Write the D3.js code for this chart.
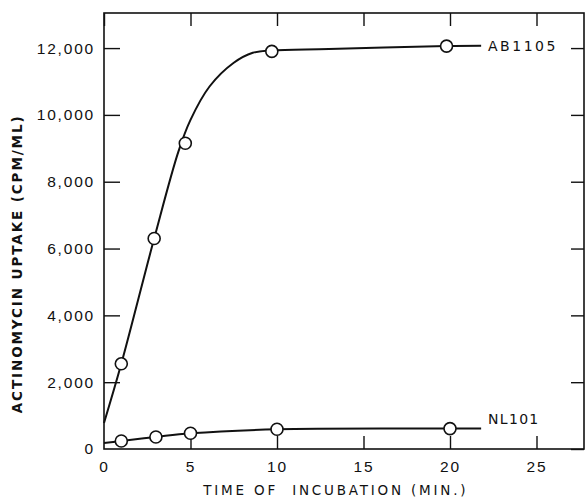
<!DOCTYPE html>
<html>
<head>
<meta charset="utf-8">
<script src="https://cdn.jsdelivr.net/npm/d3@7"></script>
<style>
  body { margin: 0; background: #fff; }
  svg { font-family: "DejaVu Sans", sans-serif; }
</style>
</head>
<body>
<div id="chart-area"></div>
<script>
// measured points (open circles)
var abTime = [1, 2.9, 4.7, 9.7, 19.8];
var abUptake = [2550, 6300, 9150, 11900, 12060];
var nlTime = [1, 3, 5, 10, 20];
var nlUptake = [240, 360, 470, 590, 610];

// hand-drawn fitted curves
var abCurveTime = [0, 1, 2.9, 4.3, 5.0, 6.1, 7.5, 8.6, 9.7, 13, 19.8, 21.8];
var abCurveUptake = [780, 2550, 6300, 8900, 9850, 10850, 11560, 11860, 11930, 11970, 12060, 12070];
var nlCurveTime = [0, 1, 3, 5, 10, 20, 21.8];
var nlCurveUptake = [180, 240, 360, 470, 590, 610, 610];

var xTicks = [0, 5, 10, 15, 20, 25];
var yTicks = [0, 2000, 4000, 6000, 8000, 10000, 12000];

window.onload = () => {
	var margin = { left: 104, top: 13, right: 3, bottom: 52 };
	var width = 587 - margin.left - margin.right;
	var height = 501 - margin.top - margin.bottom;

	var svg = d3.select('#chart-area')
		.append('svg')
		.attr("width", 587)
		.attr("height", 501);
	var g = svg.append("g")
		.attr("transform", "translate(" + margin.left + ", " + margin.top + ")");

	// SCALES
	var x = d3.scaleLinear()
		.domain([0, width / 17.3])
		.range([0, width]);
	var y = d3.scaleLinear()
		.domain([0, 13050])
		.range([height, 0]);

	// frame
	g.append("rect")
		.attr("width", width)
		.attr("height", height)
		.attr("fill", "none")
		.attr("stroke", "#111")
		.attr("stroke-width", 1.6);

	// AXES (ticks point inward)
	var fmt = d3.format(",");
	var xAxis = g.append("g")
		.attr("transform", "translate(0, " + height + ")")
		.call(d3.axisBottom(x).tickValues(xTicks).tickSize(-13).tickPadding(12).tickFormat(d => d));
	var yAxis = g.append("g")
		.call(d3.axisLeft(y).tickValues(yTicks).tickSize(-16).tickPadding(9).tickFormat(fmt));
	g.append("g")
		.call(d3.axisTop(x).tickValues(xTicks).tickSize(-13).tickFormat(""));
	g.append("g")
		.attr("transform", "translate(" + width + ", 0)")
		.call(d3.axisRight(y).tickValues(yTicks).tickSize(-13).tickFormat(""));

	g.selectAll(".domain").remove();
	g.selectAll(".tick line").attr("stroke", "#111").attr("stroke-width", 1.4);
	xAxis.selectAll(".tick line").filter(d => d === 0).remove();
	yAxis.selectAll(".tick line").filter(d => d === 0).remove();
	g.selectAll(".tick text")
		.attr("fill", "#111")
		.attr("font-size", "15.5px")
		.attr("letter-spacing", "1.8px");

	// LABELS
	g.append("text")
		.attr("x", width * 0.483)
		.attr("y", height + 46)
		.attr("font-size", "13.5px")
		.attr("letter-spacing", "2.8px")
		.attr("text-anchor", "middle")
		.attr("fill", "#111")
		.style("white-space", "pre")
		.text("TIME OF  INCUBATION (MIN.)");
	g.append("text")
		.attr("x", -(height * 0.58) + 2)
		.attr("y", -82)
		.attr("font-size", "13.5px")
		.attr("font-weight", "bold")
		.attr("letter-spacing", "1.9px")
		.attr("text-anchor", "middle")
		.attr("transform", "rotate(-90)")
		.attr("fill", "#111")
		.text("ACTINOMYCIN UPTAKE (CPM/ML)");

	// CURVES
	var line = d3.line()
		.x(d => x(d[0]))
		.y(d => y(d[1]))
		.curve(d3.curveCatmullRom.alpha(0.5));

	var series = [
		{ name: "AB1105", curve: d3.zip(abCurveTime, abCurveUptake), pts: d3.zip(abTime, abUptake), labelY: 12060, spacing: "2.5px" },
		{ name: "NL101", curve: d3.zip(nlCurveTime, nlCurveUptake), pts: d3.zip(nlTime, nlUptake), labelY: 900, spacing: "1.3px" }
	];

	series.forEach(s => {
		g.append("path")
			.datum(s.curve)
			.attr("d", line)
			.attr("fill", "none")
			.attr("stroke", "#111")
			.attr("stroke-width", 2);
		g.selectAll(null)
			.data(s.pts)
			.enter()
			.append("circle")
			.attr("cx", d => x(d[0]))
			.attr("cy", d => y(d[1]))
			.attr("r", 6)
			.attr("fill", "#fff")
			.attr("stroke", "#111")
			.attr("stroke-width", 1.6);
		g.append("text")
			.attr("x", x(22.2))
			.attr("y", y(s.labelY))
			.attr("dy", "0.35em")
			.attr("font-size", "14px")
			.attr("letter-spacing", s.spacing)
			.attr("fill", "#111")
			.text(s.name);
	});
};
</script>
</body>
</html>
